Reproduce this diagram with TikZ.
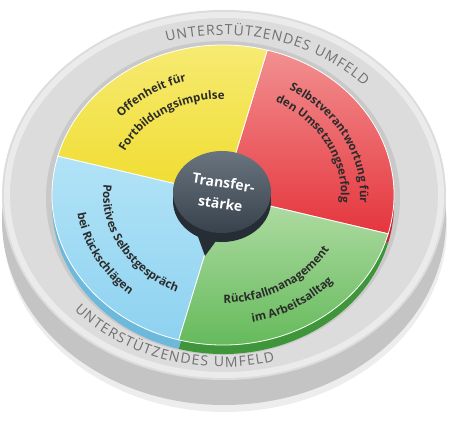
\documentclass[tikz,border=0pt]{standalone}
\usepackage{fontspec}
\setmainfont{Open Sans}
\usetikzlibrary{decorations.text}

\definecolor{ringface}{HTML}{DCDCDC}
\definecolor{ringside}{HTML}{C4C4C4}
\definecolor{ringrim}{HTML}{EBEBEB}
\definecolor{recess}{HTML}{C9C9C9}
\definecolor{ringgray}{HTML}{707070}
\definecolor{labeltext}{HTML}{2B2B2B}
\definecolor{yelT}{HTML}{F7EC7A}
\definecolor{yelB}{HTML}{F0DC2E}
\definecolor{yelS}{HTML}{D6C01E}
\definecolor{redT}{HTML}{F29090}
\definecolor{redB}{HTML}{E5353D}
\definecolor{redS}{HTML}{C0272E}
\definecolor{bluT}{HTML}{B2E3F7}
\definecolor{bluB}{HTML}{8ED2F0}
\definecolor{bluS}{HTML}{6DB9DC}
\definecolor{grnT}{HTML}{B2DDA6}
\definecolor{grnB}{HTML}{5DB653}
\definecolor{grnS}{HTML}{3F963A}
\definecolor{hubT}{HTML}{69747F}
\definecolor{hubB}{HTML}{38424D}
\definecolor{hubS}{HTML}{262D35}

\begin{document}
\begin{tikzpicture}[x=1pt, y=1pt,
    ringlabel/.style={decorate, decoration={text along path, text align={fit to path}, text color=ringgray, text={|\fontsize{14}{16}\selectfont|#1}}},
    seglabel/.style={decorate, decoration={text along path, text align=center, text color=labeltext, text={|\bfseries\fontsize{11.5}{13}\selectfont|#1}}},
    hubtext/.style={text=white, font=\bfseries\fontsize{14}{21}\selectfont, align=center}]

  \useasboundingbox (0,0) rectangle (450,424);
  \coordinate (O) at (223,229);
  \coordinate (H) at (222,232);
  \coordinate (tail) at (205,168);

  % Outer ring
  \fill[black!7] (225,198) ellipse [x radius=222, y radius=186];
  \fill[ringside] (224,204) ellipse [x radius=222, y radius=185];
  \fill[ringface] (224,229) ellipse [x radius=222, y radius=185];
  \draw[ringrim, line width=6] (224,229) ellipse [x radius=217, y radius=180];
  \fill[recess] (223,226) ellipse [x radius=177, y radius=157];

  % Sectors
  \foreach \a/\b/\cs in {-15/75/redS, 75/165/yelS, 165/255/bluS, 255/345/grnS}
    \fill[\cs] ([yshift=-9pt]O) -- ++(\a:171 and 150) arc[start angle=\a, end angle=\b, x radius=171, y radius=150] -- cycle;
  \foreach \a/\b/\ct/\cb in {-15/75/redT/redB, 75/165/yelT/yelB, 165/255/bluT/bluB, 255/345/grnT/grnB}
    \shadedraw[top color=\ct, bottom color=\cb, draw=white, line width=0.8] (O) -- ++(\a:171 and 150) arc[start angle=\a, end angle=\b, x radius=171, y radius=150] -- cycle;

  % Hub
  \fill[hubS] ([yshift=-9pt]H) ellipse [x radius=49, y radius=41];
  \fill[hubS] (197,190) -- (tail) -- (216,183) -- cycle;
  \shade[top color=hubT, bottom color=hubB] (H) ellipse [x radius=49, y radius=41];
  \node[hubtext, rotate=-9] (hub) at (222,231) {Transfer-\\stärke};

  % Ring labels
  \path[shift={(O)}, ringlabel={UNTERSTÜTZENDES UMFELD}] (107:193 and 160) arc[start angle=107, end angle=43, x radius=193, y radius=160];
  \path[shift={(O)}, ringlabel={UNTERSTÜTZENDES UMFELD}] (222:200 and 172) arc[start angle=222, end angle=285, x radius=200, y radius=172];

  % Sector labels
  \path[shift={(O)}, seglabel={Offenheit für}] (154:135 and 118) arc[start angle=154, end angle=92, x radius=135, y radius=118];
  \path[shift={(O)}, seglabel={Fortbildungsimpulse}] (168:110 and 96) arc[start angle=168, end angle=76, x radius=110, y radius=96];
  \path[shift={(O)}, seglabel={Selbstverantwortung für}] (74:137 and 120) arc[start angle=74, end angle=-18, x radius=137, y radius=120];
  \path[shift={(O)}, seglabel={den Umsetzungserfolg}] (75:118 and 104) arc[start angle=75, end angle=-17, x radius=118, y radius=104];
  \path[shift={(O)}, seglabel={Positives Selbstgespräch}] (162:120 and 105) arc[start angle=162, end angle=258, x radius=120, y radius=105];
  \path[shift={(O)}, seglabel={bei Rückschlägen}] (161:147 and 129) arc[start angle=161, end angle=255, x radius=147, y radius=129];
  \path[shift={(O)}, seglabel={Rückfallmanagement}] (254:123 and 108) arc[start angle=254, end angle=348, x radius=123, y radius=108];
  \path[shift={(O)}, seglabel={im Arbeitsalltag}] (256:148 and 130) arc[start angle=256, end angle=346, x radius=148, y radius=130];
\end{tikzpicture}
\end{document}
